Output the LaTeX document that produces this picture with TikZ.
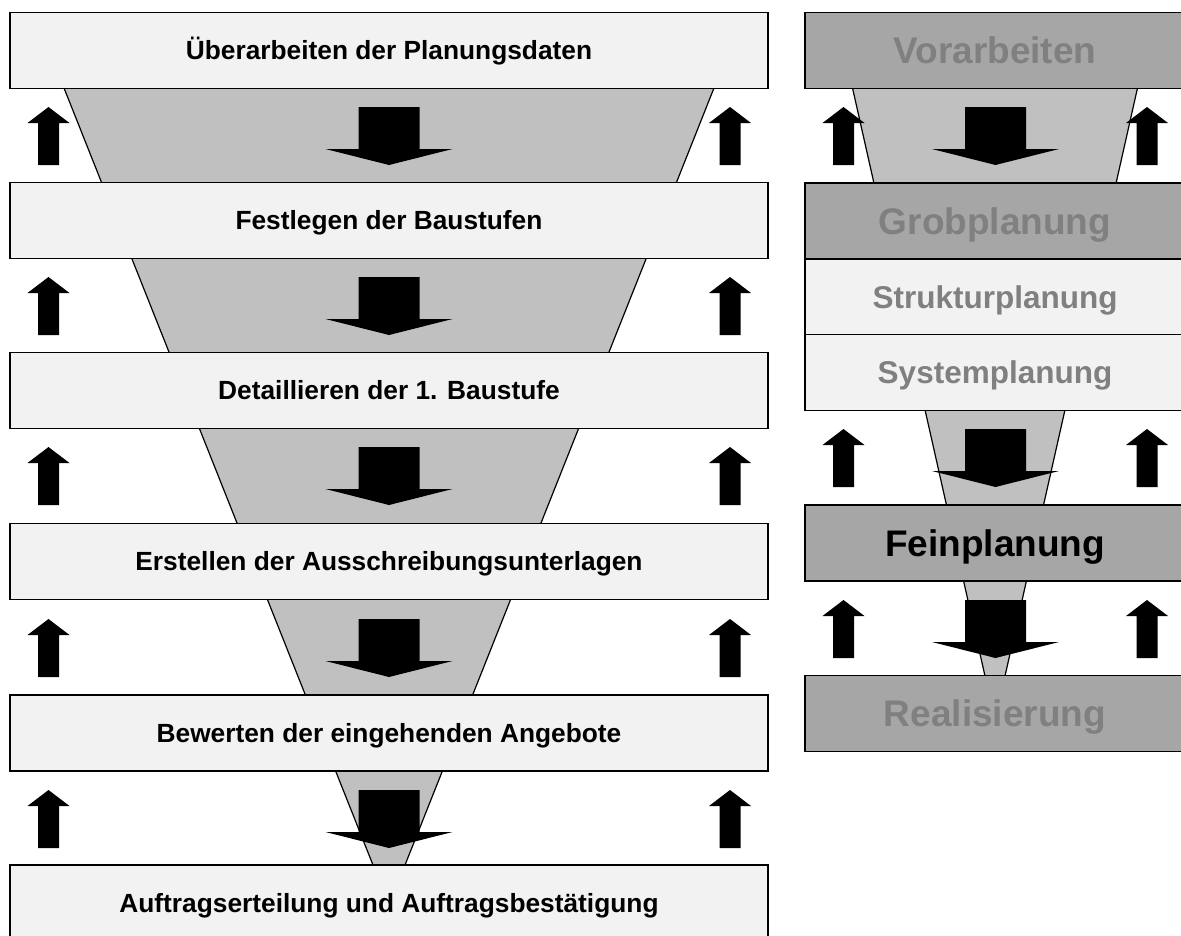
\documentclass[tikz,border=0pt]{standalone}
\usepackage{fontspec}
\setmainfont{Liberation Sans}
\definecolor{boxlight}{HTML}{F2F2F2}
\definecolor{boxdark}{HTML}{A6A6A6}
\definecolor{funnelgray}{HTML}{C0C0C0}
\definecolor{textgray}{HTML}{808080}
\begin{document}
\begin{tikzpicture}[x=1pt,y=-1pt,
  stage/.style={draw=black, line width=1.8pt, fill=boxlight, inner sep=0pt, outer sep=0pt,
    minimum width=758pt, minimum height=76pt, text height=18.8pt, text depth=0pt,
    font=\fontsize{26.3}{30}\selectfont\bfseries},
  phase/.style={draw=black, line width=1.8pt, fill=boxdark, inner sep=0pt, outer sep=0pt,
    minimum width=380pt, minimum height=76pt, text=textgray, text height=26.5pt, text depth=0pt,
    font=\fontsize{37}{42}\selectfont\bfseries},
  subphase/.style={phase, fill=boxlight, text height=22.5pt,
    font=\fontsize{31.5}{36}\selectfont\bfseries},
  funnel/.style={fill=funnelgray, draw=black, line width=1.2pt},
  downblk/.pic={\fill[black] (-30.5,19) -- (30.5,19) -- (30.5,61) -- (63.5,61) -- (0,77)
      -- (-63.5,61) -- (-30.5,61) -- cycle;},
  upblk/.pic={\fill[black] (0,19) -- (21,35) -- (10.5,35) -- (10.5,77) -- (-10.5,77)
      -- (-10.5,35) -- (-21,35) -- cycle;}
]
\useasboundingbox (0,0) rectangle (1181,935);
\clip (0,0) rectangle (1181,935);
\fill[white] (0,0) rectangle (1181,935);

% funnels behind the boxes
\draw[funnel] (64,88) -- (714,88) -- (405,865) -- (373,865) -- cycle;
\draw[funnel] (852.5,88) -- (1137.5,88) -- (1005,676) -- (985,676) -- cycle;

% left column: procurement steps
\node[stage] (s1) at (389,50.5) {Überarbeiten der Planungsdaten};
\node[stage] (s2) at (389,220.5) {Festlegen der Baustufen};
\node[stage] (s3) at (389,390.5) {Detaillieren der 1. Baustufe};
\node[stage] (s4) at (389,561.5) {Erstellen der Ausschreibungsunterlagen};
\node[stage] (s5) at (389,733) {Bewerten der eingehenden Angebote};
\node[stage] (s6) at (389,903) {Auftragserteilung und Auftragsbestätigung};

% right column: planning phases
\node[phase] (p1) at (995,50.5) {Vorarbeiten};
\node[phase] (p2) at (995,221) {Grobplanung};
\node[subphase] (p3) at (995,297) {Strukturplanung};
\node[subphase] (p4) at (995,372.5) {Systemplanung};
\node[phase, text=black] (p5) at (995,543) {Feinplanung};
\node[phase] (p6) at (995,713.5) {Realisierung};

% block arrows in the gaps
\foreach \y in {88,258,428,600,771} {
  \pic at (389,\y) {downblk};
  \pic at (48.5,\y) {upblk};
  \pic at (730,\y) {upblk};
}
\foreach \y in {88,410,581} {
  \pic at (995.5,\y) {downblk};
  \pic at (843.5,\y) {upblk};
  \pic at (1147,\y) {upblk};
}
\end{tikzpicture}
\end{document}
